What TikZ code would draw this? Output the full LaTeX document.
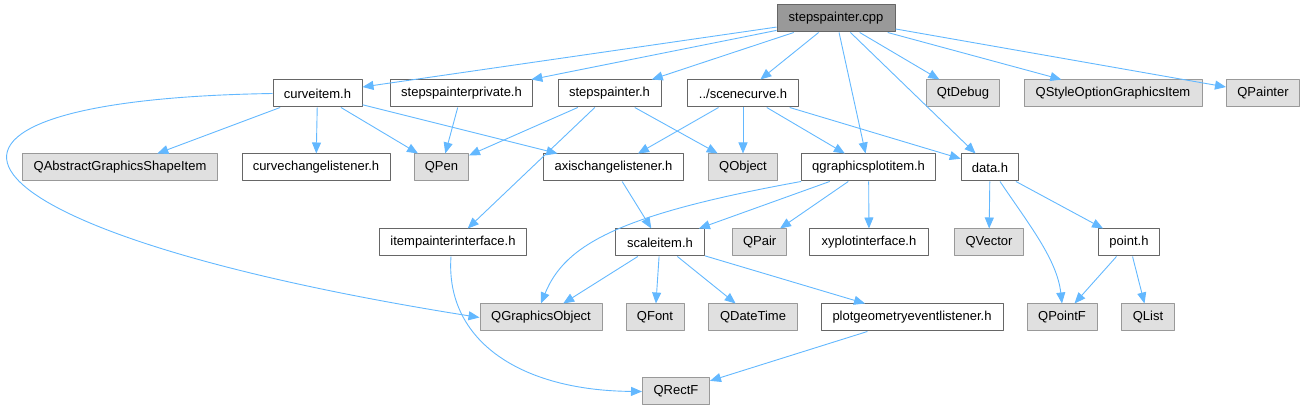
\documentclass[tikz,border=0pt]{standalone}
\usepackage{fontspec}
\setmainfont{Liberation Sans}
\usetikzlibrary{arrows.meta}
\begin{document}
\begin{tikzpicture}[x=1pt,y=-1pt,line join = round,>={Triangle[length=11pt,width=9pt]},font=\fontsize{13}{15}\selectfont]
            \definecolor{edgeblue}{HTML}{63B8FF}
            \definecolor{rootgray}{HTML}{999999}
            \definecolor{extgray}{HTML}{E0E0E0}
            \definecolor{darkrim}{HTML}{666666}
            \tikzset{
                hdr/.style={draw=darkrim,fill=white,line width=1pt,minimum height=27,inner xsep=2,#1},
                ext/.style={draw=rootgray,fill=extgray,line width=1pt,minimum height=27,inner xsep=2,#1},
                root/.style={draw=darkrim,fill=rootgray,line width=1pt,minimum height=27,inner xsep=2,#1},
                dep/.style={->,draw=edgeblue,line width=.9pt}
            }
            \useasboundingbox (0,0) rectangle (1302,411);
            %===============================
            \node[root={minimum width=118}] (cpp) at (836,18.5) {stepspainter.cpp};
            
            \node[hdr={minimum width=89}] (ci) at (317.5,93.5) {curveitem.h};
            \node[hdr={minimum width=142}] (spp) at (461.5,93.5) {stepspainterprivate.h};
            \node[hdr={minimum width=103}] (sph) at (609.5,93.5) {stepspainter.h};
            \node[hdr={minimum width=111.5}] (scn) at (743,93.5) {../scenecurve.h};
            \node[ext={minimum width=73.5}] (qdbg) at (963,93.5) {QtDebug};
            \node[ext={minimum width=178}] (qsogi) at (1113,93.5) {QStyleOptionGraphicsItem};
            \node[ext={minimum width=73}] (qpainter) at (1263,93.5) {QPainter};
            
            \node[ext={minimum width=195}] (qagsi) at (120,167.5) {QAbstractGraphicsShapeItem};
            \node[hdr={minimum width=148}] (ccl) at (316,167.5) {curvechangelistener.h};
            \node[ext={minimum width=54}] (qpen) at (441.5,167.5) {QPen};
            \node[hdr={minimum width=140}] (acl) at (613.5,167.5) {axischangelistener.h};
            \node[ext={minimum width=69}] (qobj) at (743,167.5) {QObject};
            \node[hdr={minimum width=134}] (qgpi) at (868.6,167.5) {qgraphicsplotitem.h};
            \node[hdr={minimum width=57.5}] (datah) at (990,167.5) {data.h};
            
            \node[hdr={minimum width=146.5}] (ipi) at (453,242.5) {itempainterinterface.h};
            \node[hdr={minimum width=89}] (scl) at (660,242.5) {scaleitem.h};
            \node[ext={minimum width=54}] (qpair) at (759.7,242.5) {QPair};
            \node[hdr={minimum width=118.5}] (xypi) at (869,242.5) {xyplotinterface.h};
            \node[ext={minimum width=69}] (qvec) at (989,242.5) {QVector};
            \node[hdr={minimum width=61}] (pointh) at (1129,242.5) {point.h};
            
            \node[ext={minimum width=122}] (qgo) at (541,317.5) {QGraphicsObject};
            \node[ext={minimum width=58}] (qfont) at (655,317.5) {QFont};
            \node[ext={minimum width=89}] (qdt) at (753,317.5) {QDateTime};
            \node[hdr={minimum width=182}] (pgel) at (912,317.5) {plotgeometryeventlistener.h};
            \node[ext={minimum width=70}] (qpf) at (1062,317.5) {QPointF};
            \node[ext={minimum width=52.5}] (qlist) at (1148,317.5) {QList};
            
            \node[ext={minimum width=67}] (qrf) at (676,391.5) {QRectF};
            %===============================
            \foreach \t in {ci,spp,sph,scn,qgpi,datah,qdbg,qsogi,qpainter}
                \draw[dep] (cpp) -- (\t);
            \foreach \t in {qagsi,ccl,qpen,acl}
                \draw[dep] (ci) -- (\t);
            \draw[dep] (ci.west) .. controls +(-413,6.5) and +(-550,-87.5) .. (qgo.west);
            \draw[dep] (spp) -- (qpen);
            \foreach \t in {qpen,qobj,ipi}
                \draw[dep] (sph) -- (\t);
            \foreach \t in {acl,qobj,qgpi,datah}
                \draw[dep] (scn) -- (\t);
            \draw[dep] (acl) -- (scl);
            \draw[dep] (qgpi.south west) .. controls +(-182,33) and +(24,-59) .. (qgo.north);
            \foreach \t in {scl,qpair,xypi}
                \draw[dep] (qgpi) -- (\t);
            \draw[dep] (datah) -- (qvec);
            \draw[dep] (datah) -- (pointh);
            \draw[dep] ([xshift=10]datah.south) .. controls +(29,43) and +(-5,-44) .. (qpf.north);
            \draw[dep] (pointh) -- (qpf);
            \draw[dep] (pointh) -- (qlist);
            \foreach \t in {qgo,qfont,qdt,pgel}
                \draw[dep] (scl) -- (\t);
            \draw[dep] ([xshift=-2]ipi.south) .. controls +(-6,84) and +(-122,-1) .. (qrf.west);
            \draw[dep] (pgel) -- (qrf);
        \end{tikzpicture}
\end{document}
